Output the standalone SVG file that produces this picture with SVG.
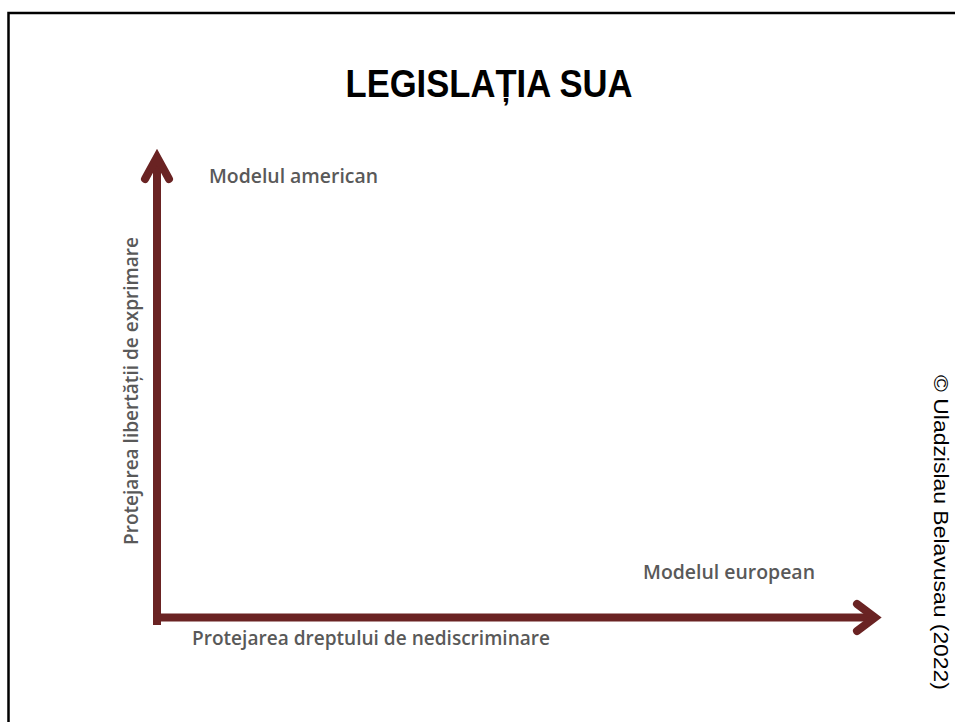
<svg xmlns="http://www.w3.org/2000/svg" width="955" height="722" viewBox="0 0 955 722">
<style>
.axis{stroke:#6a2323;stroke-width:8;fill:none}
.head{stroke:#6a2323;stroke-width:8;fill:none;stroke-linejoin:miter;stroke-miterlimit:10;stroke-linecap:round}
.lbl{font-family:"Open Sans","Liberation Sans",sans-serif;font-weight:600;fill:#595959}
</style>
<rect x="0" y="0" width="955" height="722" fill="#ffffff"/>
<rect x="8.5" y="13" width="980" height="740" fill="none" stroke="#000" stroke-width="2.5"/>
<g id="title"><text x="489" y="97" text-anchor="middle" font-family="'Liberation Sans',sans-serif" font-weight="bold" font-size="38" textLength="287" lengthAdjust="spacingAndGlyphs" fill="#000">LEGISLAȚIA SUA</text></g>
<g id="connectors">
<line class="axis" x1="157" y1="160" x2="157" y2="625"/>
<line class="axis" x1="153" y1="617.5" x2="876" y2="617.5"/>
<polyline class="head" points="145,179 157,157 169,179"/>
<polyline class="head" points="857,604 875,617.5 857,631"/>
</g>
<g id="y-label"><text class="lbl" transform="translate(138,545) rotate(-90)" font-size="19" textLength="308" lengthAdjust="spacingAndGlyphs">Protejarea libertății de exprimare</text></g>
<g id="x-label"><text class="lbl" x="192" y="645" font-size="19" textLength="358" lengthAdjust="spacingAndGlyphs">Protejarea dreptului de nediscriminare</text></g>
<g id="american"><text class="lbl" x="209" y="183" font-size="19" textLength="169" lengthAdjust="spacingAndGlyphs">Modelul american</text></g>
<g id="european"><text class="lbl" x="643" y="579" font-size="19" textLength="172" lengthAdjust="spacingAndGlyphs">Modelul european</text></g>
<g id="copyright"><text transform="translate(934,375) rotate(90)" font-family="'Liberation Sans',sans-serif" font-size="20" textLength="315" lengthAdjust="spacingAndGlyphs" fill="#000">© Uladzislau Belavusau (2022)</text></g>
</svg>
